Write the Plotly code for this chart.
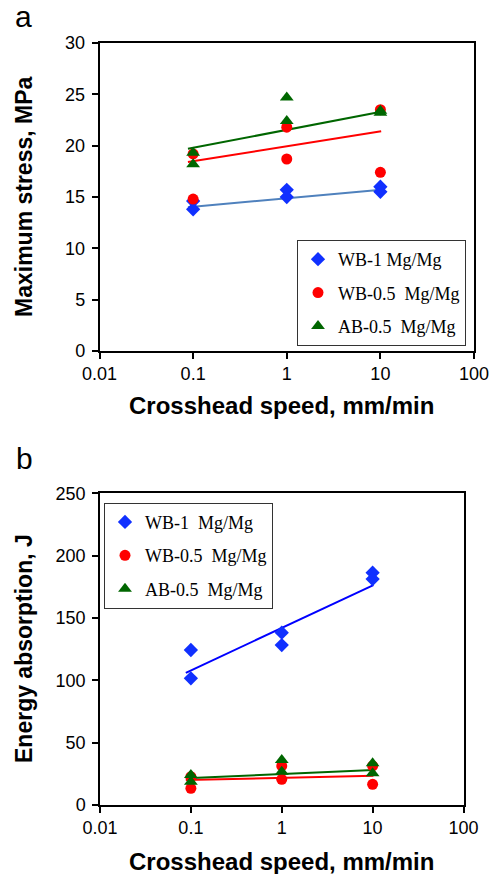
import plotly.graph_objects as go

# ---------------- data ----------------
speed = [0.1, 0.1, 1, 1, 10, 10]            # crosshead speed, mm/min
series_names_a = ["WB-1 Mg/Mg", "WB-0.5\u00a0 Mg/Mg", "AB-0.5\u00a0 Mg/Mg"]
series_names_b = ["WB-1\u00a0 Mg/Mg", "WB-0.5\u00a0 Mg/Mg", "AB-0.5\u00a0 Mg/Mg"]

# (a) maximum stress, MPa
wb1_stress = [13.8, 14.6, 15.7, 15.0, 16.0, 15.5]
wb05_stress = [19.2, 14.8, 21.8, 18.7, 23.5, 17.4]
ab05_stress = [19.3, 18.2, 24.7, 22.4, 23.4, 23.2]

# (b) energy absorption, J
wb1_energy = [124.3, 101.6, 138.2, 128.3, 186.3, 181.2]
wb05_energy = [22.7, 13.4, 31.3, 20.6, 31.3, 16.6]
ab05_energy = [24.0, 18.7, 36.0, 26.7, 33.4, 25.4]

# trend lines
fit_speed = [0.088, 10.2]
wb1_stress_fit = [14.0, 15.7]
wb05_stress_fit = [18.4, 21.4]
ab05_stress_fit = [19.7, 23.3]
wb1_energy_fit = [106.0, 176.4]
wb05_energy_fit = [20.0, 23.5]
ab05_energy_fit = [21.4, 28.1]

x_ticks = [0.01, 0.1, 1, 10, 100]
x_ticktext = ["0.01", "0.1", "1", "10", "100"]

# ---------------- styles ----------------
BLUE = "#1030ff"
RED = "#ff0000"
GREEN = "#006600"
STEEL = "#4f81bd"

fig = go.Figure()

def add_marks(x, y, name, symbol, color, size, xa, ya, legend, group):
    fig.add_trace(go.Scatter(
        x=x, y=y, mode="markers", name=name,
        marker=dict(symbol=symbol, color=color, size=size, line=dict(width=0)),
        xaxis=xa, yaxis=ya, legend=legend, legendgroup=group, showlegend=True))

def add_fit(x, y, color, xa, ya):
    fig.add_trace(go.Scatter(
        x=x, y=y, mode="lines", line=dict(color=color, width=2),
        xaxis=xa, yaxis=ya, showlegend=False, hoverinfo="skip"))

# panel a
add_fit(fit_speed, wb1_stress_fit, STEEL, "x", "y")
add_fit(fit_speed, wb05_stress_fit, RED, "x", "y")
add_fit(fit_speed, ab05_stress_fit, GREEN, "x", "y")
add_marks(speed, wb1_stress, series_names_a[0], "diamond", BLUE, 11, "x", "y", "legend", "a1")
add_marks(speed, wb05_stress, series_names_a[1], "circle", RED, 11, "x", "y", "legend", "a2")
add_marks(speed, ab05_stress, series_names_a[2], "triangle-up", GREEN, 12, "x", "y", "legend", "a3")

# panel b
add_fit(fit_speed, wb1_energy_fit, "#0000ff", "x2", "y2")
add_fit(fit_speed, wb05_energy_fit, RED, "x2", "y2")
add_fit(fit_speed, ab05_energy_fit, GREEN, "x2", "y2")
add_marks(speed, wb1_energy, series_names_b[0], "diamond", BLUE, 11, "x2", "y2", "legend2", "b1")
add_marks(speed, wb05_energy, series_names_b[1], "circle", RED, 11, "x2", "y2", "legend2", "b2")
add_marks(speed, ab05_energy, series_names_b[2], "triangle-up", GREEN, 12, "x2", "y2", "legend2", "b3")

W, H = 493, 874
tickfont = dict(family="Liberation Sans, Arial", size=18, color="black")
axis_common = dict(showline=True, linecolor="black", linewidth=1.5, mirror=True,
                   ticks="outside", ticklen=6, tickwidth=1.5, tickcolor="black",
                   showgrid=False, zeroline=False, tickfont=tickfont, automargin=False)

legend_common = dict(font=dict(family="Liberation Serif, Times New Roman", size=18, color="black"),
                     bgcolor="white", bordercolor="#333333", borderwidth=1,
                     tracegroupgap=7, xanchor="left", yanchor="top",
                     itemwidth=30)

fig.update_layout(
    width=W, height=H, autosize=False,
    margin=dict(l=0, r=0, t=0, b=0, pad=0, autoexpand=False),
    paper_bgcolor="white", plot_bgcolor="white",
    xaxis=dict(type="log", range=[-2, 2], domain=[99.5 / W, 474 / W], anchor="y",
               tickvals=x_ticks, ticktext=x_ticktext, **axis_common),
    yaxis=dict(range=[0, 30], dtick=5, domain=[1 - 351 / H, 1 - 43 / H], anchor="x",
               ticklabelstandoff=3, **axis_common),
    xaxis2=dict(type="log", range=[-2, 2], domain=[100 / W, 463.5 / W], anchor="y2",
                tickvals=x_ticks, ticktext=x_ticktext, **axis_common),
    yaxis2=dict(range=[0, 250], dtick=50, domain=[1 - 805 / H, 1 - 493.3 / H], anchor="x2",
                ticklabelstandoff=3, **axis_common),
    legend=dict(x=297 / W, y=1 - 240 / H, **legend_common),
    legend2=dict(x=104 / W, y=1 - 502.7 / H, **legend_common),
    showlegend=True,
)

xtitle_font = dict(family="Liberation Sans, Arial", size=24, color="black")
ytitle_font = dict(family="Liberation Sans, Arial", size=23, color="black")
panel_font = dict(family="Liberation Sans, Arial", size=30, color="black")
annots = [
    dict(text="<b>Crosshead speed, mm/min</b>", x=281 / W, y=1 - 406 / H, font=xtitle_font),
    dict(text="<b>Crosshead speed, mm/min</b>", x=281 / W, y=1 - 861 / H, font=xtitle_font),
    dict(text="<b>Maximum stress, MPa</b>", x=24 / W, y=1 - 197 / H, textangle=-90, font=ytitle_font),
    dict(text="<b>Energy absorption, J</b>", x=24 / W, y=1 - 649 / H, textangle=-90, font=ytitle_font),
    dict(text="a", x=23 / W, y=1 - 17 / H, font=panel_font),
    dict(text="b", x=24 / W, y=1 - 458 / H, font=panel_font),
]
for a in annots:
    fig.add_annotation(xref="paper", yref="paper", xanchor="center", yanchor="middle",
                       showarrow=False, **a)

fig.write_html("out.html", config={"displayModeBar": False},
               post_script="document.body.style.margin='0';document.body.style.overflow='hidden';")
